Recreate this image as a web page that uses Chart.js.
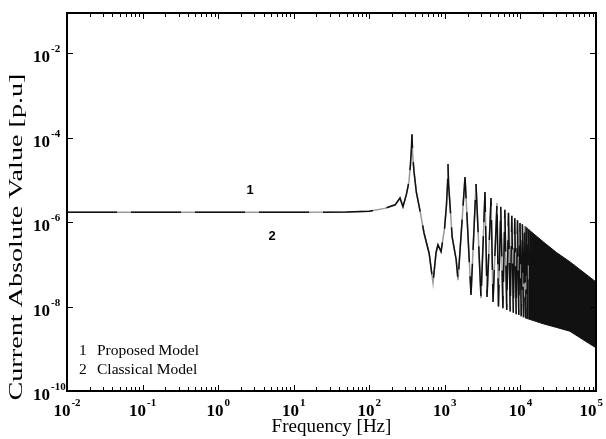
<!DOCTYPE html>
<html>
<head>
<meta charset="utf-8">
<script src="https://cdn.jsdelivr.net/npm/chart.js@4.4.1/dist/chart.umd.min.js"></script>
<style>
    body { margin: 0; background: #fff; }
    canvas { display: block; }
</style>
</head>
<body>
<canvas id="spectrumChart" width="606" height="439"></canvas>
<script>
// frequency response (Hz -> p.u.)
const freqHz = [
    0.01, 0.1, 1, 10, 50, 100, 160, 220, 255, 279, 310, 335, 350, 360, 367, 375, 390, 420, 470, 530,
    620, 697, 765, 810, 890, 990, 1050, 1085, 1100, 1120, 1180, 1250, 1410, 1494,
    1848, 2219, 2584, 3009, 3398, 3613, 4083, 4339, 4898, 5120, 5490, 5860, 6220, 6590,
    6950, 7320, 7690, 8050, 8420, 8780, 9150, 9510, 9880, 10240, 10610, 10980, 11340, 11710,
    12080, 12440, 12810
];
const proposedAmp = [
    1.7e-6, 1.7e-6, 1.7e-6, 1.7e-6, 1.72e-6, 1.8e-6, 2.1e-6, 2.55e-6, 3.7e-6, 2.3e-6, 4.5e-6, 9e-6, 2.2e-5, 5e-5, 1.2e-4, 4e-5, 1.6e-5, 5e-6, 1.8e-6, 5.5e-7,
    1.8e-7, 3.6e-8, 1.9e-7, 2.9e-7, 2.0e-7, 7e-7, 2.5e-6, 8e-6, 2.35e-5, 8e-6, 2.0e-6, 4.4e-7, 1.3e-7, 4.2e-8,
    1.16e-5, 1.87e-8, 7.9e-6, 1.58e-8, 5.1e-6, 1.68e-8, 3.7e-6, 1.28e-8, 2.8e-6, 1.0e-8, 2.3e-6, 9.1e-9, 1.95e-6, 8.3e-9,
    1.66e-6, 7.6e-9, 1.41e-6, 7.1e-9, 1.23e-6, 6.6e-9, 1.1e-6, 6.3e-9, 9.5e-7, 5.9e-9, 8.8e-7, 5.6e-9, 8.0e-7, 5.35e-9,
    7.3e-7, 5.1e-9, 6.75e-7
];
// the classical model lies on top of the proposed one at this scale
const classicalAmp = [
    1.7e-6, 1.7e-6, 1.7e-6, 1.7e-6, 1.72e-6, 1.8e-6, 2.1e-6, 2.55e-6, 3.7e-6, 2.3e-6, 4.5e-6, 9e-6, 2.2e-5, 5e-5, 1.2e-4, 4e-5, 1.6e-5, 5e-6, 1.8e-6, 5.5e-7,
    1.8e-7, 3.6e-8, 1.9e-7, 2.9e-7, 2.0e-7, 7e-7, 2.5e-6, 8e-6, 2.35e-5, 8e-6, 2.0e-6, 4.4e-7, 1.3e-7, 4.2e-8,
    1.16e-5, 1.87e-8, 7.9e-6, 1.58e-8, 5.1e-6, 1.68e-8, 3.7e-6, 1.28e-8, 2.8e-6, 1.0e-8, 2.3e-6, 9.1e-9, 1.95e-6, 8.3e-9,
    1.66e-6, 7.6e-9, 1.41e-6, 7.1e-9, 1.23e-6, 6.6e-9, 1.1e-6, 6.3e-9, 9.5e-7, 5.9e-9, 8.8e-7, 5.6e-9, 8.0e-7, 5.35e-9,
    7.3e-7, 5.1e-9, 6.75e-7
];
// above ~11 kHz the ripples merge into a solid band
const bandFreq  = [11500, 20000, 30000, 45000, 100000];
const bandUpper = [7.85e-7, 3.4e-7, 1.9e-7, 1.15e-7, 3.8e-8];
const bandLower = [5.4e-9, 3.9e-9, 3.2e-9, 2.6e-9, 1.05e-9];

const xDecades = [-2, -1, 0, 1, 2, 3, 4, 5];
const yDecades = [-10, -8, -6, -4, -2];
const legendLines = ['1  Proposed Model', '2  Classical Model'];
const curveTags = ['1', '2'];

function toPoints(xs, ys){
    return xs.map((x, i) => ({x: x, y: ys[i]}));
}

const serif = '"Liberation Serif", "Times New Roman", serif';

function drawPower(ctx, exp, x, y, align, baseSize){
    const expSize = Math.round(baseSize * 0.66);
    ctx.font = `bold ${baseSize}px ${serif}`;
    const wBase = ctx.measureText('10').width;
    ctx.font = `bold ${expSize}px ${serif}`;
    const expText = String(exp);
    const wExp = ctx.measureText(expText).width;
    let left = align === 'center' ? x - (wBase + wExp + 1) / 2 : x;
    // keep the last label inside the canvas
    left = Math.min(left, 603 - wBase - wExp - 1);
    ctx.textAlign = 'left';
    ctx.textBaseline = 'alphabetic';
    ctx.font = `bold ${baseSize}px ${serif}`;
    ctx.fillText('10', left, y);
    ctx.font = `bold ${expSize}px ${serif}`;
    ctx.fillText(expText, left + wBase + 1, y - 10);
}

const axesPlugin = {
    id: 'paperAxes',
    afterDraw(chart){
        const ctx = chart.ctx;
        const area = chart.chartArea;
        const xs = chart.scales.x;
        const ys = chart.scales.y;
        ctx.save();
        ctx.strokeStyle = '#000';
        ctx.fillStyle = '#000';

        // frame
        ctx.lineWidth = 2;
        ctx.strokeRect(area.left, area.top, area.right - area.left, area.bottom - area.top);

        // x ticks, top and bottom, pointing inwards
        ctx.lineWidth = 1;
        ctx.beginPath();
        xDecades.forEach(d => {
            for (let m = 1; m <= 9; m++){
                if (d === 5 && m > 1) break;
                const px = Math.round(xs.getPixelForValue(m * Math.pow(10, d))) + 0.5;
                const len = m === 1 ? 6 : 4;
                ctx.moveTo(px, area.bottom);
                ctx.lineTo(px, area.bottom - len);
                ctx.moveTo(px, area.top);
                ctx.lineTo(px, area.top + len);
            }
        });
        // y ticks, left and right
        yDecades.forEach(d => {
            const py = Math.round(ys.getPixelForValue(Math.pow(10, d))) + 0.5;
            ctx.moveTo(area.left, py);
            ctx.lineTo(area.left + 6, py);
            ctx.moveTo(area.right, py);
            ctx.lineTo(area.right - 6, py);
        });
        ctx.stroke();

        // tick labels
        xDecades.forEach(d => {
            drawPower(ctx, d, xs.getPixelForValue(Math.pow(10, d)), area.bottom + 25, 'center', 17);
        });
        yDecades.forEach(d => {
            drawPower(ctx, d, 33, ys.getPixelForValue(Math.pow(10, d)) + 9, 'left', 17);
        });

        // axis titles
        ctx.font = `19px ${serif}`;
        ctx.textAlign = 'center';
        ctx.textBaseline = 'alphabetic';
        ctx.fillText('Frequency [Hz]', (area.left + area.right) / 2, 432);

        ctx.save();
        ctx.font = `18px ${serif}`;
        const title = 'Current Absolute Value [p.u]';
        const stretch = 327 / ctx.measureText(title).width;
        ctx.translate(17, 237);
        ctx.rotate(-Math.PI / 2);
        ctx.scale(stretch, 1);
        ctx.textBaseline = 'middle';
        ctx.fillText(title, 0, 0);
        ctx.restore();

        // curve tags
        ctx.font = 'bold 13px "Liberation Sans", Arial, sans-serif';
        ctx.textAlign = 'center';
        ctx.textBaseline = 'middle';
        ctx.fillText(curveTags[0], 250, 190);
        ctx.fillText(curveTags[1], 272, 236);

        // legend text
        ctx.font = `15.5px ${serif}`;
        ctx.textAlign = 'left';
        ctx.textBaseline = 'alphabetic';
        legendLines.forEach((line, i) => {
            const parts = line.split('  ');
            ctx.fillText(parts[0], 79, 355 + i * 19);
            ctx.fillText(parts[1], 97, 355 + i * 19);
        });
        ctx.restore();
    }
};

const config = {
    type: 'line',
    data: {
        datasets: [
            {
                label: 'Proposed Model',
                data: toPoints(freqHz, proposedAmp),
                borderColor: '#111',
                borderWidth: 1.5,
                borderDash: [50, 14],
                pointRadius: 0,
                tension: 0,
                fill: false,
                order: 1
            },
            {
                label: 'Classical Model',
                data: toPoints(freqHz, classicalAmp),
                borderColor: '#9a9a9a',
                borderWidth: 1.5,
                pointRadius: 0,
                tension: 0,
                fill: false,
                order: 2
            },
            {
                label: 'band upper',
                data: toPoints(bandFreq, bandUpper),
                borderColor: '#111',
                backgroundColor: '#111',
                borderWidth: 1,
                pointRadius: 0,
                tension: 0,
                fill: '+1',
                order: 3
            },
            {
                label: 'band lower',
                data: toPoints(bandFreq, bandLower),
                borderColor: '#111',
                borderWidth: 1,
                pointRadius: 0,
                tension: 0,
                fill: false,
                order: 4
            }
        ]
    },
    options: {
        responsive: false,
        animation: false,
        devicePixelRatio: 1,
        layout: { padding: { left: 67, right: 10, top: 13, bottom: 48 } },
        plugins: {
            legend: { display: false },
            tooltip: { enabled: false }
        },
        scales: {
            x: { type: 'logarithmic', min: 0.01, max: 100000, display: false },
            y: { type: 'logarithmic', min: 1e-10, max: 0.0885, display: false }
        }
    },
    plugins: [axesPlugin]
};

const ctx = document.getElementById('spectrumChart').getContext('2d');
const spectrumChart = new Chart(ctx, config);
</script>
</body>
</html>
